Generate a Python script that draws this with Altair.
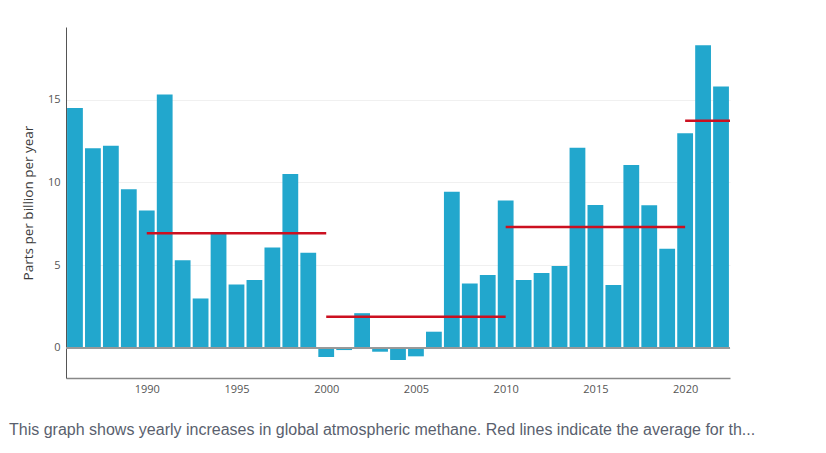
import altair as alt
import pandas as pd

years = list(range(1986, 2023))
increase = [14.5, 12.06, 12.22, 9.59, 8.30, 15.32, 5.29, 2.98, 6.88, 3.82,
            4.10, 6.07, 10.51, 5.75, -0.56, -0.14, 2.09, -0.24, -0.74, -0.52,
            0.97, 9.43, 3.88, 4.40, 8.91, 4.10, 4.52, 4.95, 12.10, 8.64,
            3.80, 11.06, 8.62, 5.99, 12.97, 18.29, 15.80]

avg_start = [1990, 2000, 2010, 2020]
avg_end = [2000, 2010, 2020, 2022.5]
avg_value = [6.92, 1.87, 7.30, 13.73]

x_ticks = [1990, 1995, 2000, 2005, 2010, 2015, 2020]
y_ticks = [0, 5, 10, 15]

bars_df = pd.DataFrame({"year": years, "value": increase})
avg_df = pd.DataFrame({"start": avg_start, "end": avg_end, "avg": avg_value})

caption = ("This graph shows yearly increases in global atmospheric methane. "
           "Red lines indicate the average for th...")

xscale = alt.Scale(domain=[1985.5, 2022.5], nice=False, zero=False)
yscale = alt.Scale(domain=[-1.83, 19.4], nice=False, zero=False)

xaxis = alt.Axis(values=x_ticks, format="d", title=None, ticks=False, grid=False,
                 domainColor="#888888", domainWidth=1.5,
                 labelColor="#555555", labelFont="Open Sans",
                 labelFontSize=11, labelPadding=5)
yaxis = alt.Axis(values=y_ticks, title="Parts per billion per year",
                 titleFont="Open Sans", titleFontSize=13.5,
                 titleFontWeight="normal", titleColor="#3a3a3a",
                 titlePadding=12, ticks=False, grid=True, gridColor="#f0f0f0",
                 domainColor="#555555", domainWidth=1,
                 labelColor="#555555", labelFont="Open Sans",
                 labelFontSize=11, labelPadding=6)

bars = alt.Chart(bars_df).transform_calculate(
    x0="datum.year - 0.44", x1="datum.year + 0.44"
).mark_bar(color="#22a7cd").encode(
    x=alt.X("x0:Q", scale=xscale, axis=xaxis),
    x2="x1:Q",
    y=alt.Y("value:Q", scale=yscale, axis=yaxis),
    y2=alt.datum(0),
)

zero = alt.Chart(bars_df).mark_rule(color="#999999", strokeWidth=1).encode(
    y=alt.datum(0, scale=yscale, axis=yaxis)
)

avg = alt.Chart(avg_df).mark_rule(color="#cc1020", strokeWidth=2.5).encode(
    x=alt.X("start:Q", scale=xscale, axis=xaxis),
    x2="end:Q",
    y=alt.Y("avg:Q", scale=yscale, axis=yaxis),
)

chart = alt.layer(bars, zero, avg).properties(
    width=664,
    height=351,
    background="white",
    autosize=alt.AutoSizeParams(type="none"),
    padding={"left": 58, "top": 19, "right": 80, "bottom": 67},
    title=alt.TitleParams(caption, orient="bottom", anchor="start", frame="group",
                          dx=-57, offset=28, font="Liberation Sans", fontSize=16,
                          fontWeight="normal", color="#5a5f6e"),
).configure_view(stroke=None)

chart.save("out.html", embed_options={"renderer": "svg", "actions": False})
